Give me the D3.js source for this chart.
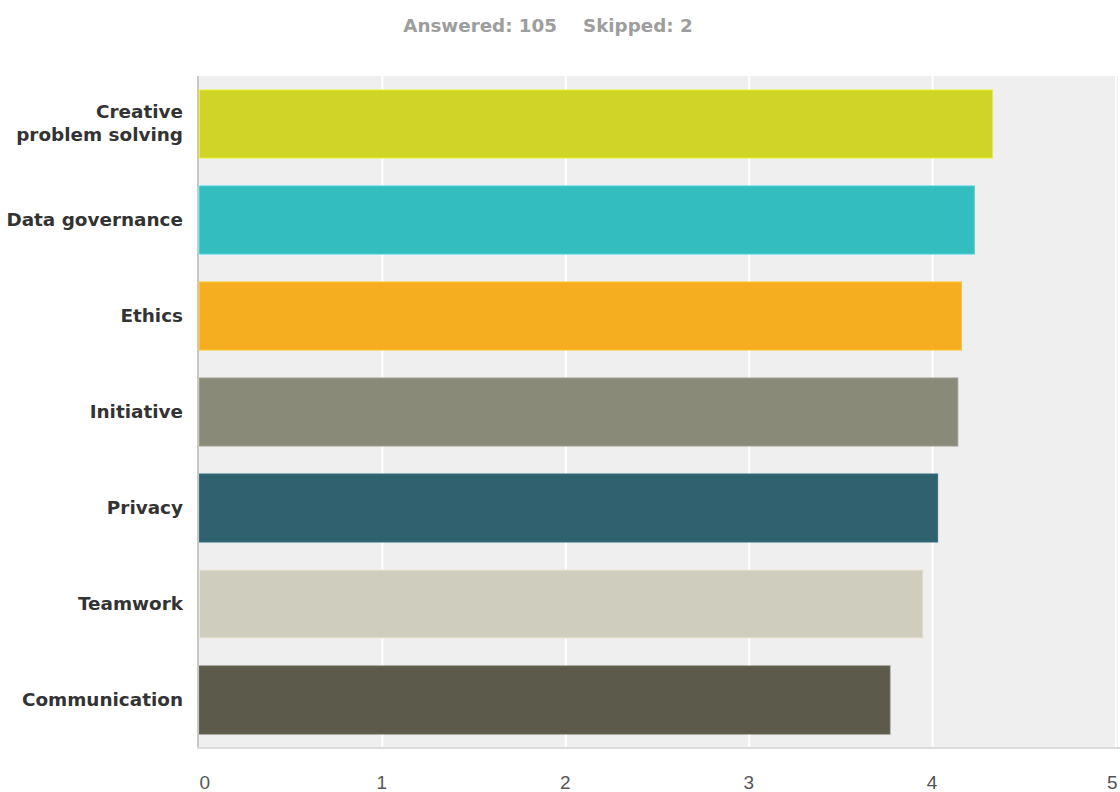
<!DOCTYPE html>
<html>
<head>
<meta charset="utf-8">
<script src="https://cdn.jsdelivr.net/npm/d3@7"></script>
<style>
  html, body { margin: 0; padding: 0; background: #fff; }
  svg { display: block; font-family: "DejaVu Sans", Verdana, sans-serif; }
</style>
</head>
<body>
<svg id="chart" width="1120" height="792"></svg>
<script>
// Average rating per skill
const categories = [
  ["Creative", "problem solving"],
  ["Data governance"],
  ["Ethics"],
  ["Initiative"],
  ["Privacy"],
  ["Teamwork"],
  ["Communication"]
];
const values = [4.33, 4.23, 4.16, 4.14, 4.03, 3.95, 3.77];
const barColors = ["#cfd427", "#33bdbf", "#f5ae1f", "#898a78", "#30616e", "#cfcdbd", "#5b5a4b"];
const tickValues = [0, 1, 2, 3, 4, 5];
const answered = 105, skipped = 2;

const svg = d3.select("#chart");
const plot = { left: 199, right: 1116, top: 76, bottom: 748 };

const x = d3.scaleLinear().domain([0, 5]).range([plot.left, plot.right]);
const y = d3.scaleBand()
  .domain(d3.range(categories.length))
  .range([plot.top, plot.bottom])
  .paddingInner(0.28125)
  .paddingOuter(0.140625);

// Header
const header = svg.append("text")
  .attr("x", 548).attr("y", 32)
  .attr("text-anchor", "middle")
  .attr("font-size", 18.3).attr("font-weight", "bold")
  .attr("fill", "#9d9d9d");
header.append("tspan").text(`Answered: ${answered}`);
header.append("tspan").attr("dx", 26).text(`Skipped: ${skipped}`);

// Plot background
svg.append("rect")
  .attr("x", plot.left).attr("y", plot.top)
  .attr("width", plot.right - plot.left + 2).attr("height", plot.bottom - plot.top)
  .attr("fill", "#efefef");

// Vertical grid lines
svg.append("g").selectAll("line")
  .data(tickValues.slice(1))
  .join("line")
  .attr("x1", d => x(d)).attr("x2", d => x(d))
  .attr("y1", plot.top).attr("y2", plot.bottom)
  .attr("stroke", "#ffffff").attr("stroke-width", 2);

// Bars
svg.append("g").selectAll("rect")
  .data(values)
  .join("rect")
  .attr("x", x(0) + 0.5)
  .attr("y", (d, i) => y(i) + 0.5)
  .attr("width", d => x(d) - x(0) - 1)
  .attr("height", y.bandwidth() - 1)
  .attr("fill", (d, i) => barColors[i])
  .attr("stroke", (d, i) => d3.color(barColors[i]).brighter(0.35))
  .attr("stroke-width", 1);

// Plot borders: left and bottom
svg.append("line")
  .attr("x1", plot.left - 1).attr("x2", plot.left - 1)
  .attr("y1", plot.top).attr("y2", plot.bottom + 1)
  .attr("stroke", "#c8c8c8").attr("stroke-width", 2);
svg.append("line")
  .attr("x1", plot.left - 2).attr("x2", plot.right + 4)
  .attr("y1", plot.bottom).attr("y2", plot.bottom)
  .attr("stroke", "#dcdcdc").attr("stroke-width", 2);

// Category labels
const labels = svg.append("g").selectAll("text")
  .data(categories)
  .join("text")
  .attr("x", 183)
  .attr("text-anchor", "end")
  .attr("font-size", 18.4).attr("font-weight", "bold")
  .attr("fill", "#333333");
labels.each(function(lines, i) {
  const cy = y(i) + y.bandwidth() / 2;
  const lh = 23;
  const y0 = cy - (lines.length - 1) * lh / 2 + 5.5;
  d3.select(this).selectAll("tspan")
    .data(lines)
    .join("tspan")
    .attr("x", 183)
    .attr("y", (d, j) => y0 + j * lh)
    .text(d => d);
});

// X axis tick labels
const xAxis = d3.axisBottom(x).tickValues(tickValues).tickSize(0).tickPadding(0).tickFormat(d3.format("d"));
const axisG = svg.append("g")
  .attr("transform", `translate(0, ${plot.bottom + 41})`)
  .call(xAxis);
axisG.select(".domain").remove();
axisG.selectAll("text")
  .attr("font-family", "\"Liberation Sans\", Arial, sans-serif")
  .attr("font-size", 19)
  .attr("fill", "#555555")
  .attr("dy", 0)
  .attr("text-anchor", d => d === 0 ? "start" : d === 5 ? "end" : "middle")
  .attr("dx", d => d === 0 ? 0 : d === 5 ? 1 : -1);
</script>
</body>
</html>
